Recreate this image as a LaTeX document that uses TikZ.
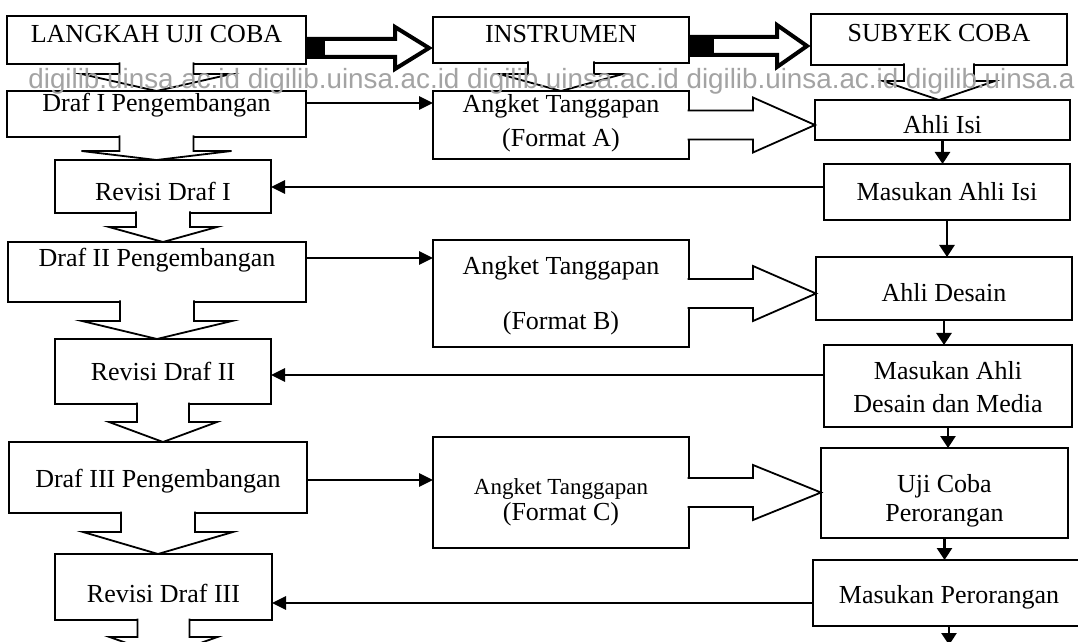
\documentclass[tikz,border=0pt]{standalone}
\usepackage{fontspec}
\setmainfont{Liberation Serif}
\newfontfamily\tandaair{Liberation Sans}
\usepackage{tikz}
\usetikzlibrary{arrows.meta,positioning,calc}
\definecolor{tinta}{HTML}{000000}
\definecolor{abuair}{HTML}{A3A3A3}
\newcommand{\naik}[2]{\raisebox{#1}[0pt][0pt]{#2}}

\begin{document}
\begin{tikzpicture}[x=0.5pt,y=-0.5pt,
  kotak/.style={draw=tinta,line width=0.9pt,fill=white,inner sep=0pt,outer sep=0pt,
    font=\fontsize{13}{15.6}\selectfont},
  ukuran/.style 2 args={minimum width=#1*0.5pt,minimum height=#2*0.5pt},
  blok/.style={draw=tinta,line width=0.9pt,fill=white,line join=miter},
  tebal/.style={draw=tinta,line width=2pt,fill=white,line join=miter},
  panah/.style={draw=tinta,line width=1.4pt,-{Triangle[length=7pt,width=6.5pt]}},
  panahv/.style={draw=tinta,line width=1.4pt,-{Triangle[length=6pt,width=7.5pt]}}]
  \useasboundingbox (0,0) rectangle (1078,642);
  \fill[white] (0,0) rectangle (1078,642);

  % kolom langkah uji coba
  \node[kotak,ukuran={299}{48}] (langkah) at (156.5,40) {\naik{-1.3pt}{LANGKAH UJI COBA}};
  \node[kotak,ukuran={299}{46}] (draf1) at (156.5,114) {\naik{1pt}{Draf I Pengembangan}};
  \node[kotak,ukuran={216}{53}] (revisi1) at (163,186.5) {\naik{-7pt}{Revisi Draf I}};
  \node[kotak,ukuran={298}{60}] (draf2) at (157,272) {\naik{2.7pt}{Draf II Pengembangan}};
  \node[kotak,ukuran={216}{65}] (revisi2) at (163,371.5) {\naik{-4.3pt}{Revisi Draf II}};
  \node[kotak,ukuran={298}{71}] (draf3) at (158,477.5) {\naik{-5pt}{Draf III Pengembangan}};
  \node[kotak,ukuran={217}{66}] (revisi3) at (163.5,587) {\naik{-7.8pt}{Revisi Draf III}};
  \coordinate (bawahKiri) at (163.5,656);

  % kolom instrumen
  \node[kotak,ukuran={256}{46}] (instrumen) at (561,40) {\naik{-1.3pt}{INSTRUMEN}};
  \node[kotak,ukuran={256}{68}] (angketA) at (561,125)
    {\naik{-1.95pt}{\begin{tabular}{@{}c@{}}Angket Tanggapan\\[1.4pt](Format A)\end{tabular}}};
  \node[kotak,ukuran={256}{107}] (angketB) at (561,293.5)
    {\naik{-3.95pt}{\begin{tabular}{@{}c@{}}Angket Tanggapan\\[11.9pt](Format B)\end{tabular}}};
  \node[kotak,ukuran={256}{111}] (angketC) at (561,492.5)
    {\naik{-7.2pt}{\begin{tabular}{@{}c@{}}{\fontsize{11.5}{13.8}\selectfont Angket Tanggapan}\\[-2.6pt](Format C)\end{tabular}}};

  % kolom subyek coba
  \node[kotak,ukuran={256}{51}] (subyek) at (939,39.5) {\naik{-1.1pt}{SUBYEK COBA}};
  \node[kotak,ukuran={255}{40}] (ahliIsi) at (942.5,120) {\naik{-6.8pt}{Ahli Isi}};
  \node[kotak,ukuran={246}{56}] (masukanIsi) at (947,192) {\naik{-4.3pt}{Masukan Ahli Isi}};
  \node[kotak,ukuran={256}{63}] (ahliDesain) at (944,288.5) {\naik{-6.55pt}{Ahli Desain}};
  \node[kotak,ukuran={248}{82}] (masukanDesain) at (948,386)
    {\naik{-4.7pt}{\begin{tabular}{@{}c@{}}Masukan Ahli\\[0.9pt]Desain dan Media\end{tabular}}};
  \node[kotak,ukuran={247}{90}] (ujiCoba) at (944.5,493)
    {\naik{-6.7pt}{\begin{tabular}{@{}c@{}}Uji Coba\\[-1.1pt]Perorangan\end{tabular}}};
  \node[kotak,ukuran={272}{66}] (masukanPer) at (949,593) {\naik{-5.3pt}{Masukan Perorangan}};
  \coordinate (bawahKanan) at (949,645);

  % panah blok ke bawah
  \foreach \dari/\ke/\sw/\hw/\pj in {langkah/draf1.north/37/75/10, instrumen/angketA.north/33/62/11,
      subyek/ahliIsi.north/35/56/16, draf1/revisi1.north/37/75/14, revisi1/draf2.north/27/54/14,
      draf2/revisi2.north/37/75/19, revisi2/draf3.north/26/54/18, draf3/revisi3.north/37/75/19,
      revisi3/bawahKiri/26/54/17}
    \draw[blok] ($(\dari.south)+(-\sw,-1.5)$) -- ($(\dari.south)+(-\sw,\pj)$)
      -- ($(\dari.south)+(-\hw,\pj)$) -- (\dari.south |- \ke) -- ($(\dari.south)+(\hw,\pj)$)
      -- ($(\dari.south)+(\sw,\pj)$) -- ($(\dari.south)+(\sw,-1.5)$);

  % panah blok ke kanan
  \foreach \dari/\ke in {angketA/ahliIsi, angketB/ahliDesain, angketC/ujiCoba}
    \draw[blok] ($(\dari.east)+(-1.5,-14.5)$) -- ($(\dari.east)+(64,-14.5)$)
      -- ($(\dari.east)+(64,-27.5)$) -- (\ke.west |- \dari.east) -- ($(\dari.east)+(64,27.5)$)
      -- ($(\dari.east)+(64,14.5)$) -- ($(\dari.east)+(-1.5,14.5)$);

  % panah tebal di baris judul
  \foreach \dari/\ke/\dy/\kp/\ek in {langkah/instrumen/8/34/16, instrumen/subyek/6/30/22} {
    \path ($(\dari.east)+(3,\dy)$) coordinate (ekor) ($(\ke.west)+(-4,0)$) coordinate (ujung);
    \path (ekor -| ujung) coordinate (mata);
    \draw[tebal] ($(ekor)+(0,-9)$) -- ($(mata)+(-\kp,-9)$) -- ($(mata)+(-\kp,-21)$) -- (mata)
      -- ($(mata)+(-\kp,21)$) -- ($(mata)+(-\kp,9)$) -- ($(ekor)+(0,9)$) -- cycle;
    \fill[tinta] ($(ekor)+(-1,-11)$) rectangle ($(ekor)+(\ek,11)$);
  }

  % panah draf ke angket
  \foreach \dari/\ke/\dy in {draf1/angketA/5.5, draf2/angketB/7, draf3/angketC/-1.25} {
    \path ([yshift=\dy pt]\dari.east) coordinate (titik);
    \draw[panah] (titik) -- (titik -| \ke.west);
  }
  % panah masukan ke revisi
  \foreach \dari/\ke/\dy in {masukanIsi/revisi1/2.5, masukanDesain/revisi2/5.5, masukanPer/revisi3/-5} {
    \path ([yshift=\dy pt]\dari.west) coordinate (titik);
    \draw[panah] (titik) -- (titik -| \ke.east);
  }
  % panah kolom subyek
  \foreach \dari/\ke in {ahliIsi/masukanIsi, masukanIsi/ahliDesain, ahliDesain/masukanDesain,
      masukanDesain/ujiCoba, ujiCoba/masukanPer}
    \draw[panahv] (\dari.south) -- (\dari.south |- \ke.north);
  \draw[panahv] (masukanPer.south) -- (bawahKanan);

  \node[font=\tandaair\fontsize{13.9}{16}\selectfont,text=abuair,anchor=west,inner sep=0pt] (tandaAir)
    at (28,81) {digilib.uinsa.ac.id digilib.uinsa.ac.id digilib.uinsa.ac.id digilib.uinsa.ac.id digilib.uinsa.a};
\end{tikzpicture}
\end{document}
